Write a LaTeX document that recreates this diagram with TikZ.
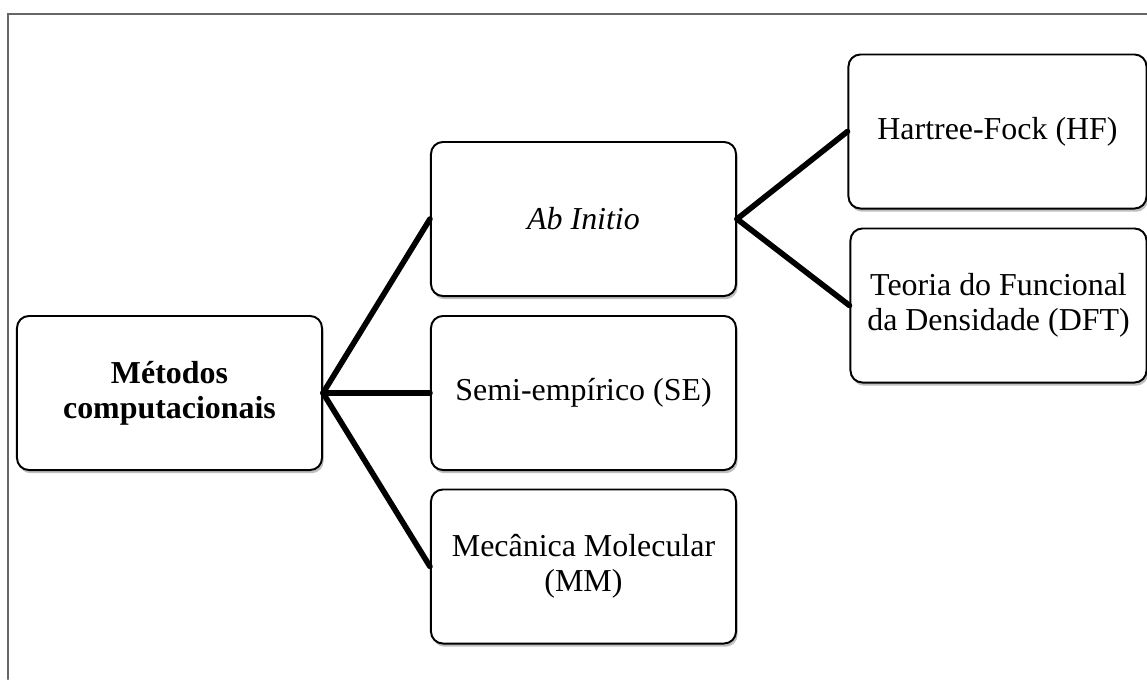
\documentclass[tikz,border=0pt]{standalone}
\usepackage{fontspec}
\setmainfont{Liberation Serif}
\usetikzlibrary{shadows}
\begin{document}
\begin{tikzpicture}[x=0.025cm,y=-0.025cm,line cap=round]
        % Styles
        \tikzstyle{page frame}=[line width=1.5pt,black!60]
        \tikzstyle{method box}=[draw,rounded corners=0.3cm,line width=1.4pt,fill=white,
            minimum width=7.625cm,minimum height=3.85cm,align=center,
            font=\fontsize{22.7}{25}\selectfont,
            drop shadow={shadow xshift=0.04cm,shadow yshift=-0.08cm,opacity=0.25,fill=black}]
        \tikzstyle{branch line}=[line width=4pt]
        %The graphic
        \useasboundingbox (0,0) rectangle (1147,679);
        %frame
        \draw[style=page frame] (8,679) -- (8,14) -- (1147,14);
        %boxes
        \node[method box] (metodos) at (169.5,393) {\textbf{Métodos}\\\textbf{computacionais}};
        \node[method box] (abinitio) at (583.5,219) {\textit{Ab Initio}};
        \node[method box] (semi) at (583.5,393) {Semi-empírico (SE)};
        \node[method box] (mecanica) at (583.5,566.5) {Mecânica Molecular\\(MM)};
        \node[method box,minimum width=7.45cm] (hartree) at (997.5,131.5) {Hartree-Fock (HF)};
        \node[method box,minimum width=7.4cm] (dft) at (998.5,305.5) {Teoria do Funcional\\da Densidade (DFT)};
        %connectors
        \draw[style=branch line] (metodos.east) -- (abinitio.west);
        \draw[style=branch line] (metodos.east) -- (semi.west);
        \draw[style=branch line] (metodos.east) -- (mecanica.west);
        \draw[style=branch line] (abinitio.east) -- (hartree.west);
        \draw[style=branch line] (abinitio.east) -- (dft.west);
\end{tikzpicture}
\end{document}
